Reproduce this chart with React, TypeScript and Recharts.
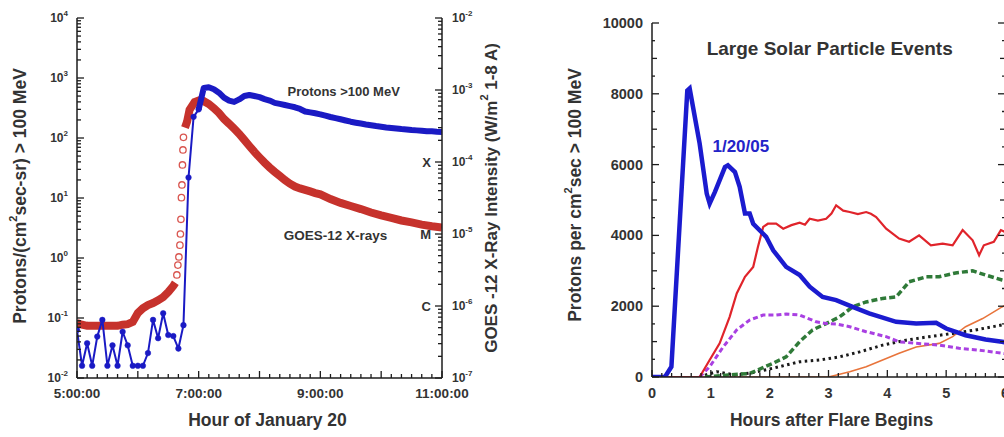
import React from 'react';
import { LineChart, Line, XAxis, YAxis, ReferenceDot, Label } from 'recharts';

const FONT = '"Liberation Sans", Arial, Helvetica, sans-serif';
const INK = '#333333';
const AXIS = '#1c1c1c';

// ================= Left panel: 20 January 2005 =================
const clockTickMinutes = [0, 120, 240, 360];
const clockTickLabels = ['5:00:00', '7:00:00', '9:00:00', '11:00:00'];
const goesClassExponents = [-4, -5, -6];
const goesClassLetters = ['X', 'M', 'C'];

// minutes after 05:00 UT
const protonMinutes = [0, 5, 10, 15, 20, 25, 30, 35, 40, 45, 50, 55, 60, 65, 70, 75, 80, 85, 90, 95, 100, 105, 110, 115, 120, 125, 130, 135, 140, 145, 150, 155, 160, 165, 170, 175, 180, 185, 190, 195, 200, 205, 210, 215, 220, 225, 230, 235, 240, 245, 250, 255, 260, 265, 270, 275, 280, 285, 290, 295, 300, 305, 310, 315, 320, 325, 330, 335, 340, 345, 350, 355, 360];
const protonFlux = [0.063, 0.016, 0.038, 0.016, 0.049, 0.093, 0.016, 0.035, 0.016, 0.059, 0.035, 0.016, 0.016, 0.016, 0.026, 0.093, 0.046, 0.12, 0.052, 0.05, 0.031, 0.076, 22, 225, 300, 680, 700, 650, 570, 470, 420, 400, 440, 500, 520, 500, 480, 445, 420, 385, 370, 355, 340, 325, 305, 277, 267, 258, 248, 236, 224, 214, 205, 196, 187, 180, 174, 168, 163, 158, 154, 150, 147, 144, 141, 139, 136, 134, 132, 130, 129, 127, 126];
const protonEventStart = 24; // index from which the event plateau is drawn as a solid band

const xrayPreMinutes = [0, 5, 10, 15, 20, 25, 30, 35, 40, 45, 50, 55, 60, 65, 70, 75, 80, 85, 90, 95, 97];
const xrayPreFlux = [5.8e-7, 5.5e-7, 5.3e-7, 5.3e-7, 5.3e-7, 5.3e-7, 5.3e-7, 5.3e-7, 5.3e-7, 5.5e-7, 5.6e-7, 6.0e-7, 8.0e-7, 9.3e-7, 1.03e-6, 1.1e-6, 1.2e-6, 1.33e-6, 1.56e-6, 1.9e-6, 2.1e-6];
const xrayRiseMinutes = [98.5, 99.5, 100.5, 101.5, 102, 102.5, 103, 103.5, 104, 104.5, 105];
const xrayRiseFlux = [2.7e-6, 3.7e-6, 4.8e-6, 7.0e-6, 1.0e-5, 1.6e-5, 3.2e-5, 4.8e-5, 9.1e-5, 1.47e-4, 2.2e-4];
const xrayDecayMinutes = [106.5, 108.5, 111, 116, 121, 125, 130, 135, 140, 145, 150, 155, 160, 165, 170, 175, 180, 185, 190, 195, 200, 205, 210, 215, 220, 225, 230, 235, 240, 250, 260, 270, 280, 290, 300, 310, 320, 330, 340, 350, 360];
const xrayDecayFlux = [3.0e-4, 3.6e-4, 5.3e-4, 6.8e-4, 7.2e-4, 7.0e-4, 6.4e-4, 5.6e-4, 4.8e-4, 3.95e-4, 3.4e-4, 2.9e-4, 2.46e-4, 2.03e-4, 1.67e-4, 1.38e-4, 1.16e-4, 9.8e-5, 8.4e-5, 7.3e-5, 6.4e-5, 5.6e-5, 5.0e-5, 4.56e-5, 4.3e-5, 4.1e-5, 3.9e-5, 3.7e-5, 3.55e-5, 3.06e-5, 2.7e-5, 2.45e-5, 2.22e-5, 1.99e-5, 1.81e-5, 1.67e-5, 1.54e-5, 1.45e-5, 1.35e-5, 1.28e-5, 1.23e-5];

// ================= Right panel: large SPEs =================
const flareHourLabels = ['0', '1', '2', '3', '4', '5', '6'];
const countTickValues = [0, 2000, 4000, 6000, 8000, 10000];
const countTickLabels = ['0', '2000', '4000', '6000', '8000', '10000'];

const jan2005Hours = [0, 0.22, 0.33, 0.6, 0.64, 0.81, 0.93, 0.98, 1.07, 1.24, 1.29, 1.41, 1.49, 1.58, 1.66, 1.72, 1.94, 2.06, 2.28, 2.51, 2.68, 2.9, 3.13, 3.41, 3.69, 4.15, 4.49, 4.83, 5.0, 5.33, 5.67, 5.95, 6.0];
const jan2005Counts = [0, 0, 290, 8090, 8150, 6590, 5180, 4900, 5230, 5930, 5980, 5790, 5370, 4620, 4620, 4330, 3960, 3580, 3110, 2880, 2550, 2260, 2170, 1980, 1800, 1560, 1510, 1530, 1370, 1180, 1060, 995, 980];

const redHours = [0, 0.81, 0.98, 1.15, 1.32, 1.44, 1.58, 1.72, 1.8, 1.89, 1.97, 2.11, 2.23, 2.37, 2.51, 2.6, 2.68, 2.82, 2.96, 3.05, 3.13, 3.25, 3.36, 3.5, 3.64, 3.72, 3.81, 3.98, 4.2, 4.37, 4.54, 4.74, 4.94, 5.11, 5.28, 5.45, 5.56, 5.64, 5.81, 5.93, 6.0];
const redCounts = [0, 0, 480, 950, 1700, 2360, 2830, 3110, 3670, 4240, 4330, 4330, 4190, 4290, 4360, 4300, 4470, 4420, 4470, 4620, 4850, 4700, 4660, 4600, 4660, 4610, 4520, 4190, 3910, 3820, 4000, 3720, 3770, 3720, 4150, 3860, 3440, 3720, 3820, 4150, 4100];

const violetHours = [0.81, 0.98, 1.21, 1.44, 1.66, 1.89, 2.11, 2.28, 2.51, 2.79, 2.96, 3.13, 3.36, 3.64, 3.98, 4.2, 4.49, 4.88, 5.22, 5.56, 5.95, 6.0];
const violetCounts = [0, 290, 850, 1330, 1610, 1750, 1750, 1780, 1750, 1560, 1510, 1500, 1420, 1280, 1140, 995, 950, 900, 810, 760, 670, 660];

const greenHours = [0.9, 1.3, 1.66, 2.06, 2.28, 2.51, 2.73, 2.96, 3.19, 3.41, 3.64, 3.92, 4.15, 4.37, 4.66, 4.88, 5.16, 5.45, 5.67, 5.95, 6.0];
const greenCounts = [0, 60, 100, 390, 570, 1000, 1330, 1510, 1700, 1980, 2120, 2220, 2260, 2690, 2830, 2830, 2940, 3000, 2880, 2740, 2720];

const blackHours = [0.9, 1.1, 1.4, 1.7, 2.06, 2.51, 2.85, 3.19, 3.53, 3.92, 4.32, 4.71, 5.11, 5.5, 5.95, 6.0];
const blackCounts = [50, 150, 60, 120, 250, 430, 480, 570, 710, 900, 1040, 1140, 1230, 1330, 1470, 1490];

const orangeHours = [0, 3.0, 3.36, 3.64, 3.92, 4.2, 4.49, 4.88, 5.11, 5.33, 5.62, 5.95, 6.0];
const orangeCounts = [0, 0, 150, 290, 480, 670, 850, 950, 1140, 1420, 1650, 1980, 2020];

// ---------- helpers ----------
const rows = (xs: number[], ys: number[], xk: string) => xs.map((x, i) => ({ [xk]: x, v: ys[i] }));

const decadeOf = (v: number) => Math.floor(Math.log10(v) + 1e-6);
const isDecade = (v: number) => Math.abs(v / Math.pow(10, decadeOf(v)) - 1) < 1e-6;
const logTicks = (lo: number, hi: number) => {
  const out: number[] = [];
  for (let e = lo; e < hi; e++) for (let k = 1; k <= 9; k++) out.push(Number((k * Math.pow(10, e)).toPrecision(3)));
  out.push(Number(Math.pow(10, hi).toPrecision(3)));
  return out;
};

const protonTicks = logTicks(-2, 4);
const xrayTicks = logTicks(-7, -2);
const clockTicks = Array.from({ length: 37 }, (_, i) => i * 10);
const flareTicks = Array.from({ length: 37 }, (_, i) => i / 6);
const countTicks = Array.from({ length: 21 }, (_, i) => i * 500);

const txt = { fontFamily: FONT, fontWeight: 700, fill: INK } as const;
const tl = { stroke: AXIS, strokeWidth: 1.3 } as const;

const ClockTick = (p: any) => {
  const { x, y, payload, top } = p;
  const m = payload.value;
  const major = m % 60 === 0;
  const idx = clockTickMinutes.indexOf(m);
  const len = major ? 7 : 4;
  return (
    <g>
      <line x1={x} x2={x} y1={y} y2={top ? y + len : y - len} {...tl} />
      {!top && idx >= 0 && (
        <text x={x} y={y + 15} textAnchor="middle" dominantBaseline="central" fontSize={13.5} {...txt}>{clockTickLabels[idx]}</text>
      )}
    </g>
  );
};

const ProtonTick = (p: any) => {
  const { x, y, payload } = p;
  const v = payload.value;
  const major = isDecade(v);
  return (
    <g>
      <line x1={x} x2={x + (major ? 7 : 4)} y1={y} y2={y} {...tl} />
      {major && (
        <text x={x - 9} y={y} textAnchor="end" dominantBaseline="central" fontSize={12} {...txt}>
          10<tspan dy={-5} fontSize={8}>{decadeOf(v)}</tspan>
        </text>
      )}
    </g>
  );
};

const XrayTick = (p: any) => {
  const { x, y, payload } = p;
  const v = payload.value;
  const major = isDecade(v);
  const e = decadeOf(v);
  const ci = goesClassExponents.indexOf(e);
  return (
    <g>
      <line x1={x} x2={x - (major ? 7 : 4)} y1={y} y2={y} {...tl} />
      {major && (
        <text x={x + 10} y={y} textAnchor="start" dominantBaseline="central" fontSize={12} {...txt}>
          10<tspan dy={-5} fontSize={8}>{e}</tspan>
        </text>
      )}
      {major && ci >= 0 && (
        <text x={x - 11} y={y} textAnchor="end" dominantBaseline="central" fontSize={13} {...txt}>{goesClassLetters[ci]}</text>
      )}
    </g>
  );
};

const FlareTick = (p: any) => {
  const { x, y, payload, top } = p;
  const h = payload.value;
  const major = Math.abs(h - Math.round(h)) < 1e-6;
  const len = major ? 7 : 4;
  return (
    <g>
      <line x1={x} x2={x} y1={y} y2={top ? y + len : y - len} {...tl} />
      {!top && major && (
        <text x={x} y={y + 16} textAnchor="middle" dominantBaseline="central" fontSize={14.5} {...txt}>{flareHourLabels[Math.round(h)]}</text>
      )}
    </g>
  );
};

const CountTick = (p: any) => {
  const { x, y, payload, right } = p;
  const v = payload.value;
  const len = v % 2000 === 0 ? 7 : v % 1000 === 0 ? 5 : 3;
  const idx = countTickValues.indexOf(v);
  return (
    <g>
      <line x1={x} x2={right ? x - len : x + len} y1={y} y2={y} {...tl} />
      {!right && idx >= 0 && (
        <text x={x - 9} y={y} textAnchor="end" dominantBaseline="central" fontSize={14.5} {...txt}>{countTickLabels[idx]}</text>
      )}
    </g>
  );
};

const noteText = (text: string, size: number, color: string) => (p: any) => {
  const vb = p.viewBox || {};
  const cx = (vb.x ?? 0) + (vb.width ?? 0) / 2;
  const cy = (vb.y ?? 0) + (vb.height ?? 0) / 2;
  return (
    <text x={cx} y={cy} textAnchor="middle" dominantBaseline="central" fontFamily={FONT} fontWeight={700} fontSize={size} fill={color}>{text}</text>
  );
};

const axisLine = { stroke: AXIS, strokeWidth: 1.5 };

function LeftChart() {
  const protonRows = rows(protonMinutes, protonFlux, 'm');
  const protonQuiet = protonRows.slice(0, protonEventStart + 1);
  const protonEvent = protonRows.slice(protonEventStart);
  const preRows = rows(xrayPreMinutes, xrayPreFlux, 'm');
  const riseRows = rows(xrayRiseMinutes, xrayRiseFlux, 'm');
  const decayRows = rows(xrayDecayMinutes, xrayDecayFlux, 'm');
  const RED = '#c6322c';
  const BLUE = '#1a1ac4';
  return (
    <LineChart width={520} height={437} margin={{ top: 18, right: 0, bottom: 0, left: 0 }}>
      <XAxis xAxisId="b" type="number" dataKey="m" domain={[0, 360]} ticks={clockTicks} interval={0} tickSize={0} tickMargin={0}
        tickLine={false} axisLine={axisLine} height={59} allowDataOverflow tick={(p: any) => <ClockTick {...p} />}>
        <Label content={(p: any) => {
          const vb = p.viewBox;
          return <text x={vb.x + vb.width / 2 + 8} y={vb.y + 42} textAnchor="middle" dominantBaseline="central" fontSize={17.5} {...txt}>Hour of January 20</text>;
        }} />
      </XAxis>
      <XAxis xAxisId="t" orientation="top" type="number" dataKey="m" domain={[0, 360]} ticks={clockTicks} interval={0} tickSize={0} tickMargin={0}
        tickLine={false} axisLine={axisLine} height={0} allowDataOverflow tick={(p: any) => <ClockTick {...p} top />} />
      <YAxis yAxisId="p" type="number" scale="log" domain={[0.01, 10000]} ticks={protonTicks} interval={0} tickSize={0} tickMargin={0}
        tickLine={false} axisLine={axisLine} width={77} allowDataOverflow tick={(p: any) => <ProtonTick {...p} />}>
        <Label content={(p: any) => {
          const vb = p.viewBox;
          const cx = vb.x + 20;
          const cy = vb.y + vb.height / 2 - 2;
          return (
            <text x={cx} y={cy} transform={`rotate(-90 ${cx} ${cy})`} textAnchor="middle" dominantBaseline="central" fontSize={17.5} {...txt}>
              Protons/(cm<tspan dy={-7} fontSize={11}>2</tspan><tspan dy={7}>sec-sr) &gt; 100 MeV</tspan>
            </text>
          );
        }} />
      </YAxis>
      <YAxis yAxisId="x" orientation="right" type="number" scale="log" domain={[1e-7, 1e-2]} ticks={xrayTicks} interval={0} tickSize={0} tickMargin={0}
        tickLine={false} axisLine={axisLine} width={78} allowDataOverflow tick={(p: any) => <XrayTick {...p} />}>
        <Label content={(p: any) => {
          const vb = p.viewBox;
          const cx = vb.x + 49;
          const cy = vb.y + vb.height / 2;
          return (
            <text x={cx} y={cy} transform={`rotate(-90 ${cx} ${cy})`} textAnchor="middle" dominantBaseline="central" fontSize={17} {...txt}>
              GOES -12 X-Ray Intensity (W/m<tspan dy={-7} fontSize={11}>2</tspan><tspan dy={7}> 1-8 A)</tspan>
            </text>
          );
        }} />
      </YAxis>

      <Line xAxisId="b" yAxisId="x" data={preRows} dataKey="v" stroke={RED} strokeWidth={8} dot={false} activeDot={false} isAnimationActive={false} />
      <Line xAxisId="b" yAxisId="x" data={decayRows} dataKey="v" stroke={RED} strokeWidth={8} dot={false} activeDot={false} isAnimationActive={false} />
      <Line xAxisId="b" yAxisId="x" data={riseRows} dataKey="v" stroke="none" dot={{ r: 3.2, fill: 'none', stroke: '#d9554f', strokeWidth: 1.3 }} activeDot={false} isAnimationActive={false} />
      <Line xAxisId="b" yAxisId="p" data={protonQuiet} dataKey="v" stroke={BLUE} strokeWidth={2} dot={{ r: 2.8, fill: BLUE, stroke: BLUE, strokeWidth: 0.5 }} activeDot={false} isAnimationActive={false} />
      <Line xAxisId="b" yAxisId="p" data={protonEvent} dataKey="v" stroke={BLUE} strokeWidth={6} strokeLinejoin="round" dot={false} activeDot={false} isAnimationActive={false} />

      <ReferenceDot xAxisId="b" yAxisId="p" x={263} y={585} r={1} fill="none" stroke="none" ifOverflow="visible"
        label={<Label content={noteText('Protons >100 MeV', 13, INK)} />} />
      <ReferenceDot xAxisId="b" yAxisId="p" x={255} y={2.4} r={1} fill="none" stroke="none" ifOverflow="visible"
        label={<Label content={noteText('GOES-12 X-rays', 13.5, INK)} />} />
    </LineChart>
  );
}

function RightChart() {
  const series = [
    { key: 'orange', data: rows(orangeHours, orangeCounts, 'h'), stroke: '#e8743b', width: 1.6, dash: undefined },
    { key: 'black', data: rows(blackHours, blackCounts, 'h'), stroke: '#1a1a1a', width: 3, dash: '2.5 3.5' },
    { key: 'green', data: rows(greenHours, greenCounts, 'h'), stroke: '#2f7a38', width: 3.5, dash: '6 3' },
    { key: 'violet', data: rows(violetHours, violetCounts, 'h'), stroke: '#a940e2', width: 3, dash: '5 3' },
    { key: 'red', data: rows(redHours, redCounts, 'h'), stroke: '#e0242b', width: 2.2, dash: undefined },
    { key: 'blue', data: rows(jan2005Hours, jan2005Counts, 'h'), stroke: '#1b1bcf', width: 4.5, dash: undefined },
  ];
  return (
    <LineChart width={530} height={437} margin={{ top: 23, right: 0, bottom: 0, left: 0 }}>
      <XAxis xAxisId="b" type="number" dataKey="h" domain={[0, 6]} ticks={flareTicks} interval={0} tickSize={0} tickMargin={0}
        tickLine={false} axisLine={axisLine} height={60} allowDataOverflow tick={(p: any) => <FlareTick {...p} />}>
        <Label content={(p: any) => {
          const vb = p.viewBox;
          return <text x={vb.x + vb.width / 2 + 3} y={vb.y + 43} textAnchor="middle" dominantBaseline="central" fontSize={17.5} {...txt}>Hours after Flare Begins</text>;
        }} />
      </XAxis>
      <XAxis xAxisId="t" orientation="top" type="number" dataKey="h" domain={[0, 6]} ticks={flareTicks} interval={0} tickSize={0} tickMargin={0}
        tickLine={false} axisLine={axisLine} height={0} allowDataOverflow tick={(p: any) => <FlareTick {...p} top />} />
      <YAxis yAxisId="l" type="number" domain={[0, 10000]} ticks={countTicks} interval={0} tickSize={0} tickMargin={0}
        tickLine={false} axisLine={axisLine} width={132} allowDataOverflow tick={(p: any) => <CountTick {...p} />}>
        <Label content={(p: any) => {
          const vb = p.viewBox;
          const cx = vb.x + 55;
          const cy = vb.y + vb.height / 2 - 5;
          return (
            <text x={cx} y={cy} transform={`rotate(-90 ${cx} ${cy})`} textAnchor="middle" dominantBaseline="central" fontSize={17.5} {...txt}>
              Protons per cm<tspan dy={-7} fontSize={11}>2</tspan><tspan dy={7}>sec &gt; 100 MeV</tspan>
            </text>
          );
        }} />
      </YAxis>
      <YAxis yAxisId="r" orientation="right" type="number" domain={[0, 10000]} ticks={countTicks} interval={0} tickSize={0} tickMargin={0}
        tickLine={false} axisLine={axisLine} width={45} allowDataOverflow tick={(p: any) => <CountTick {...p} right />} />

      {series.map((s) => (
        <Line key={s.key} xAxisId="b" yAxisId="l" data={s.data} dataKey="v" stroke={s.stroke} strokeWidth={s.width}
          strokeDasharray={s.dash} dot={false} activeDot={false} isAnimationActive={false} />
      ))}

      <ReferenceDot xAxisId="b" yAxisId="l" x={3.02} y={9280} r={1} fill="none" stroke="none" ifOverflow="visible"
        label={<Label content={noteText('Large Solar Particle Events', 19, INK)} />} />
      <ReferenceDot xAxisId="b" yAxisId="l" x={1.51} y={6515} r={1} fill="none" stroke="none" ifOverflow="visible"
        label={<Label content={noteText('1/20/05', 17, '#2323c8')} />} />
    </LineChart>
  );
}

export default function App() {
  return (
    <div style={{ position: 'absolute', left: 0, top: 0, width: 1004, height: 437, overflow: 'hidden', background: '#ffffff' }}>
      <div style={{ position: 'absolute', left: 0, top: 0 }}>
        <LeftChart />
      </div>
      <div style={{ position: 'absolute', left: 520, top: 0 }}>
        <RightChart />
      </div>
    </div>
  );
}
